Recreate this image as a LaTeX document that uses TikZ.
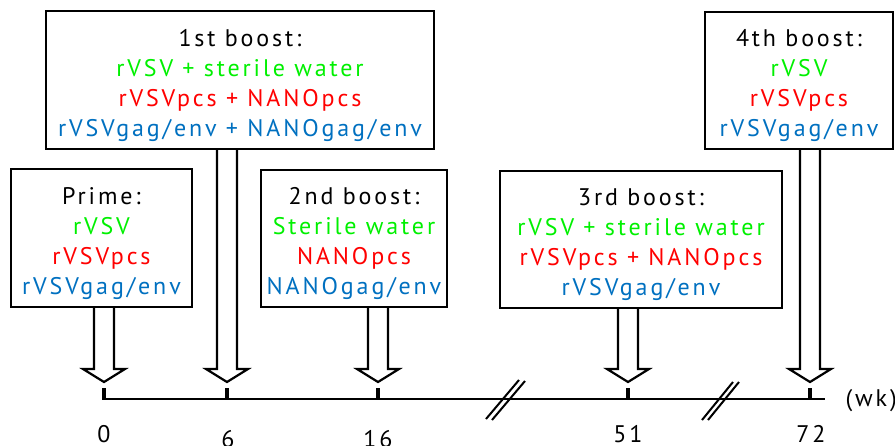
\documentclass[tikz,border=0pt]{standalone}
\usepackage{fontspec}
\setmainfont[LetterSpace=12]{PT Sans}
\usetikzlibrary{calc}
\definecolor{vgreen}{RGB}{0,240,0}
\definecolor{vred}{RGB}{255,0,0}
\definecolor{vblue}{RGB}{0,112,192}
% taller first line pushes the text block down inside its box
\newcommand\tallline{\rule{0pt}{28pt}}
\newcommand\gr[1]{\textcolor{vgreen}{#1}}
\newcommand\rd[1]{\textcolor{vred}{#1}}
\newcommand\bl[1]{\textcolor{vblue}{#1}}

\begin{document}
\begin{tikzpicture}[x=1pt,y=-1pt,
  every node/.style={font=\fontsize{24}{30}\selectfont},
  plan/.style={draw, line width=2.3pt, align=center, inner sep=0pt},
  axisline/.style={line width=2.4pt},
  tickmark/.style={line width=4pt},
  breakmark/.style={line width=2pt},
  ticklabel/.style={anchor=base},
  hollow/.style={line width=2.2pt, fill=white, line join=miter,
    to path={let \p1=(\tikztostart), \p2=(\tikztotarget) in
      (\x2-10pt,\y1) -- (\x2-10pt,\y2+13pt) -- (\x2-21pt,\y2+13pt) -- (\x2,\y2)
      -- (\x2+21pt,\y2+13pt) -- (\x2+10pt,\y2+13pt) -- (\x2+10pt,\y1)}}
]
\useasboundingbox (0,0) rectangle (895,445);

% schedule boxes
\node[plan, minimum width=181, minimum height=138] (prime) at (101.5,238)
  {\tallline Prime:\\ \gr{rVSV}\\ \rd{rVSVpcs}\\ \bl{rVSVgag/env}};
\node[plan, minimum width=388, minimum height=138] (boost1) at (240,80)
  {\tallline 1st boost:\\ \gr{rVSV + sterile water}\\ \rd{rVSVpcs + NANOpcs}\\ \bl{rVSVgag/env + NANOgag/env}};
\node[plan, minimum width=186, minimum height=137] (boost2) at (354,238.5)
  {\tallline 2nd boost:\\ \gr{Sterile water}\\ \rd{NANOpcs}\\ \bl{NANOgag/env}};
\node[plan, minimum width=282, minimum height=137] (boost3) at (641,239.5)
  {\tallline 3rd boost:\\ \gr{rVSV + sterile water}\\ \rd{rVSVpcs + NANOpcs}\\ \bl{rVSVgag/env}};
\node[plan, minimum width=188, minimum height=137] (boost4) at (799,80.5)
  {\tallline 4th boost:\\ \gr{rVSV}\\ \rd{rVSVpcs}\\ \bl{rVSVgag/env}};

% time axis
\coordinate (axstart) at (102,399);
\coordinate (axend) at (825,399);
\draw[axisline] (axstart) -- (axend);

\foreach \k/\x in {0/104, 1/227, 2/378, 3/628, 4/810} {
  \coordinate (t\k) at (\x,399);
  \coordinate (tip\k) at (\x,382);
  \draw[tickmark] (t\k) -- ++(0,-11);
}

% axis breaks
\draw[breakmark] (486,419) -- (519,380) (492,420) -- (525,381);
\draw[breakmark] (702,420) -- (733,382) (708,420) -- (739,382);

% tick labels
\node[ticklabel] (l0) at (104,442) {0};
\node[ticklabel] (l1) at (228,447) {6};
\node[ticklabel] (l2) at (378,447) {16};
\node[ticklabel] (l3) at (628,442) {51};
\node[ticklabel] (l4) at (811,442) {72};
\node[anchor=west] (unit) at (842,401) {(wk)};

% hollow arrows from each box down to its time point
\coordinate (a0) at (prime.south -| tip0);
\coordinate (a1) at (boost1.south -| tip1);
\coordinate (a2) at (boost2.south -| tip2);
\coordinate (a3) at (boost3.south -| tip3);
\coordinate (a4) at (boost4.south -| tip4);
\draw[hollow] (a0) to (tip0);
\draw[hollow] (a1) to (tip1);
\draw[hollow] (a2) to (tip2);
\draw[hollow] (a3) to (tip3);
\draw[hollow] (a4) to (tip4);
\end{tikzpicture}
\end{document}
